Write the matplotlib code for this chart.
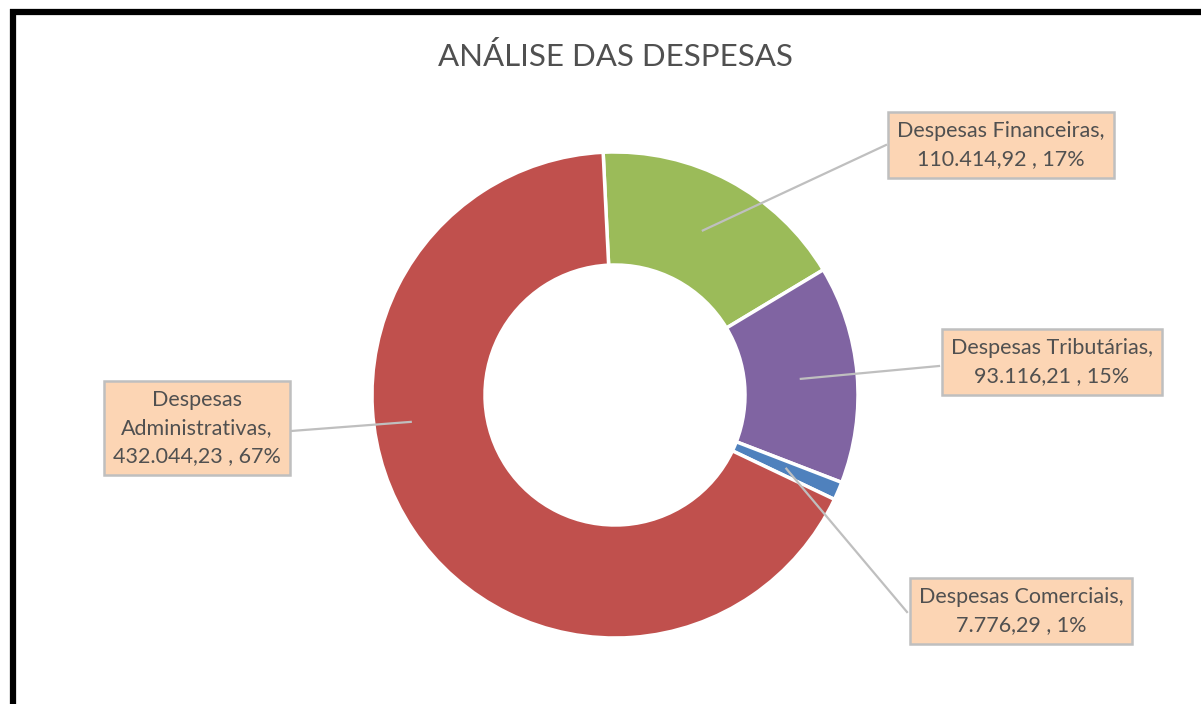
import numpy as np
import matplotlib
matplotlib.use("Agg")
import matplotlib.pyplot as plt
from matplotlib.lines import Line2D

# chart data
categories = ["Despesas Financeiras", "Despesas Tributárias",
              "Despesas Comerciais", "Despesas Administrativas"]
values = [110414.92, 93116.21, 7776.29, 432044.23]
value_labels = ["110.414,92", "93.116,21", "7.776,29", "432.044,23"]
pct_labels = ["17%", "15%", "1%", "67%"]
colors = ["#9BBB59", "#8064A2", "#4F81BD", "#C0504D"]

W, H = 1201, 704
fig = plt.figure(figsize=(W / 100, H / 100), dpi=100)
ax = fig.add_axes([0, 0, 1, 1])

cx, cy = 615, H - 395
R, hole = 243, 130
start = 92.8  # degrees, Excel-style first slice angle

wedges, _ = ax.pie(values, colors=colors, startangle=start, counterclock=False,
                   radius=R, center=(cx, cy),
                   wedgeprops=dict(width=R - hole, edgecolor="white", linewidth=2.5))

# pie() resets the limits, so set them afterwards (data units = pixels)
ax.set_xlim(0, W)
ax.set_ylim(0, H)
ax.set_aspect("equal")
ax.axis("off")

# label box positions (pixel coords, y from top) and leader line ends
box_pos = [(1001, 145), (1052, 362), (1021, 611), (197, 428)]
line_end = [(886, 145), (939, 366), (907, 612), (291, 431)]

for i, w in enumerate(wedges):
    mid = np.deg2rad((w.theta1 + w.theta2) / 2)
    r = (R + hole) / 2
    px, py = cx + r * np.cos(mid), cy + r * np.sin(mid)
    if i == 3:
        a = np.deg2rad(187.5)
        px, py = cx + 206 * np.cos(a), cy + 206 * np.sin(a)
    ex, ey = line_end[i]
    ax.add_line(Line2D([px, ex], [py, H - ey], color="#BFBFBF", lw=1.6, zorder=3))
    name = categories[i]
    if i == 3:
        name = name.replace(" ", "\n")
    label = f"{name},\n{value_labels[i]} , {pct_labels[i]}"
    bx, by = box_pos[i]
    ax.text(bx, H - by, label, ha="center", va="center", fontsize=15.5,
            family="Lato", color="#505050", linespacing=1.5, zorder=4,
            bbox=dict(boxstyle="square,pad=0.42", fc="#FCD5B4", ec="#BFBFBF", lw=1.8))

ax.text(615, H - 57, "ANÁLISE DAS DESPESAS", ha="center", va="center",
        fontsize=22.5, family="Lato", color="#505050")

# black frame at top and left
fig.add_artist(Line2D([13 / W, 13 / W], [0, 1 - 9 / H], color="black", lw=4.5,
                      transform=fig.transFigure, solid_capstyle="butt"))
fig.add_artist(Line2D([10 / W, 1], [1 - 12 / H, 1 - 12 / H], color="black", lw=4.5,
                      transform=fig.transFigure, solid_capstyle="butt"))

plt.savefig("out.png", dpi=100)
